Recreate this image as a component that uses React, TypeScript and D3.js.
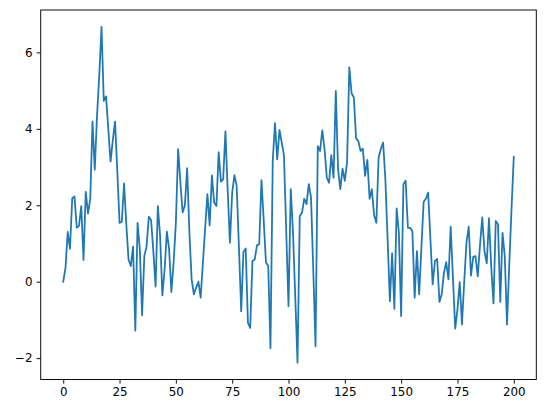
import React, { useEffect, useRef } from "react";
import * as d3 from "d3";

const values: number[] = [
  0.0, 0.36, 1.30, 0.86, 2.18, 2.23, 1.41, 1.46, 1.98, 0.57,
  2.35, 1.78, 2.17, 4.19, 2.93, 4.34, 5.4, 6.67, 4.73, 4.85,
  4.0, 3.14, 3.7, 4.19, 2.9, 1.54, 1.57, 2.57, 1.5, 0.58,
  0.41, 0.92, -1.28, 1.54, 0.85, -0.88, 0.67, 0.93, 1.70, 1.61,
  0.8, -0.13, 1.98, 1.2, -0.36, 0.32, 1.31, 0.85, -0.27, 0.5,
  1.54, 3.47, 2.6, 1.81, 2.0, 2.97, 1.3, 0.06, -0.33, -0.16,
  0.0, -0.42, 0.5, 1.4, 2.29, 1.47, 2.78, 2.07, 1.98, 3.39,
  2.62, 2.68, 3.93, 2.4, 1.02, 2.33, 2.79, 2.5, 0.9, -0.77,
  0.78, 0.87, -1.08, -1.21, 0.54, 0.58, 0.95, 0.98, 2.66, 1.6,
  0.5, 0.41, -1.74, 3.16, 4.15, 3.2, 3.97, 3.64, 3.29, 1.3,
  -0.64, 2.42, 1.28, -0.4, -2.12, 1.72, 1.81, 2.17, 2.03, 2.55,
  2.2, 0.3, -1.69, 3.55, 3.42, 3.96, 3.47, 2.72, 2.59, 3.31,
  2.72, 4.99, 2.94, 2.42, 2.96, 2.64, 3.12, 5.61, 4.93, 4.82,
  3.75, 3.68, 3.42, 3.48, 2.77, 3.19, 2.17, 2.42, 1.74, 1.54,
  3.25, 3.47, 3.64, 2.68, 1.1, -0.51, 0.74, -0.71, 1.92, 1.28,
  -0.9, 2.55, 2.64, 1.41, 1.41, 1.32, -0.42, 0.8, -0.33, 0.9,
  2.09, 2.17, 2.33, 1.1, -0.07, 0.54, 0.6, -0.53, -0.33, 0.23,
  0.51, 0.06, 1.44, 0.1, -1.23, -0.73, -0.01, -1.12, 0.0, 1.02,
  1.44, 0.16, 0.65, 0.67, 0.14, 0.95, 1.68, 0.8, 0.48, 1.66,
  0.37, -0.57, 1.59, 1.5, -0.53, 1.28, 0.67, -1.12, 0.45, 1.9,
  3.27,
];

const xTicks: number[] = [0, 25, 50, 75, 100, 125, 150, 175, 200];
const yTicks: number[] = [-2, 0, 2, 4, 6];

const W = 546;
const H = 413;
const left = 40.7;
const right = 536.3;
const top = 10;
const bottom = 379.5;

export default function App() {
  const ref = useRef<SVGSVGElement | null>(null);

  useEffect(() => {
    const svg = d3.select(ref.current);
    svg.selectAll("*").remove();

    const n = values.length;
    const xPad = (n - 1) * 0.05;
    const x = d3.scaleLinear().domain([-xPad, n - 1 + xPad]).range([left, right]);
    const [mn, mx] = d3.extent(values) as [number, number];
    const yPad = (mx - mn) * 0.05;
    const y = d3.scaleLinear().domain([mn - yPad, mx + yPad]).range([bottom, top]);

    svg.append("rect").attr("width", W).attr("height", H).attr("fill", "white");

    const line = d3
      .line<number>()
      .x((_, i) => x(i))
      .y((d) => y(d));

    svg
      .append("path")
      .datum(values)
      .attr("d", line)
      .attr("fill", "none")
      .attr("stroke", "#1f77b4")
      .attr("stroke-width", 1.78)
      .attr("stroke-linejoin", "round")
      .attr("stroke-linecap", "square");

    const font = "DejaVu Sans, sans-serif";

    const gx = svg.append("g").attr("transform", `translate(0,${bottom})`);
    const xAxis = d3.axisBottom(x).tickValues(xTicks).tickSize(4.1).tickPadding(4.1).tickFormat(d3.format("d"));
    gx.call(xAxis as any);
    gx.select(".domain").remove();
    gx.selectAll("text").attr("font-family", font).attr("font-size", 11.9).attr("fill", "#000");
    gx.selectAll("line").attr("stroke", "#000").attr("stroke-width", 0.95);

    const gy = svg.append("g").attr("transform", `translate(${left},0)`);
    const yAxis = d3.axisLeft(y).tickValues(yTicks).tickSize(4.1).tickPadding(4.1).tickFormat((d) => {
      const v = d as number;
      return v < 0 ? "\u2212" + Math.abs(v) : String(v);
    });
    gy.call(yAxis as any);
    gy.select(".domain").remove();
    gy.selectAll("text").attr("font-family", font).attr("font-size", 11.9).attr("fill", "#000");
    gy.selectAll("line").attr("stroke", "#000").attr("stroke-width", 0.95);

    svg
      .append("rect")
      .attr("x", left)
      .attr("y", top)
      .attr("width", right - left)
      .attr("height", bottom - top)
      .attr("fill", "none")
      .attr("stroke", "#000")
      .attr("stroke-width", 0.95);
  }, []);

  return (
    <svg
      ref={ref}
      width={W}
      height={H}
      style={{ position: "absolute", left: 0, top: 0, display: "block" }}
    />
  );
}
